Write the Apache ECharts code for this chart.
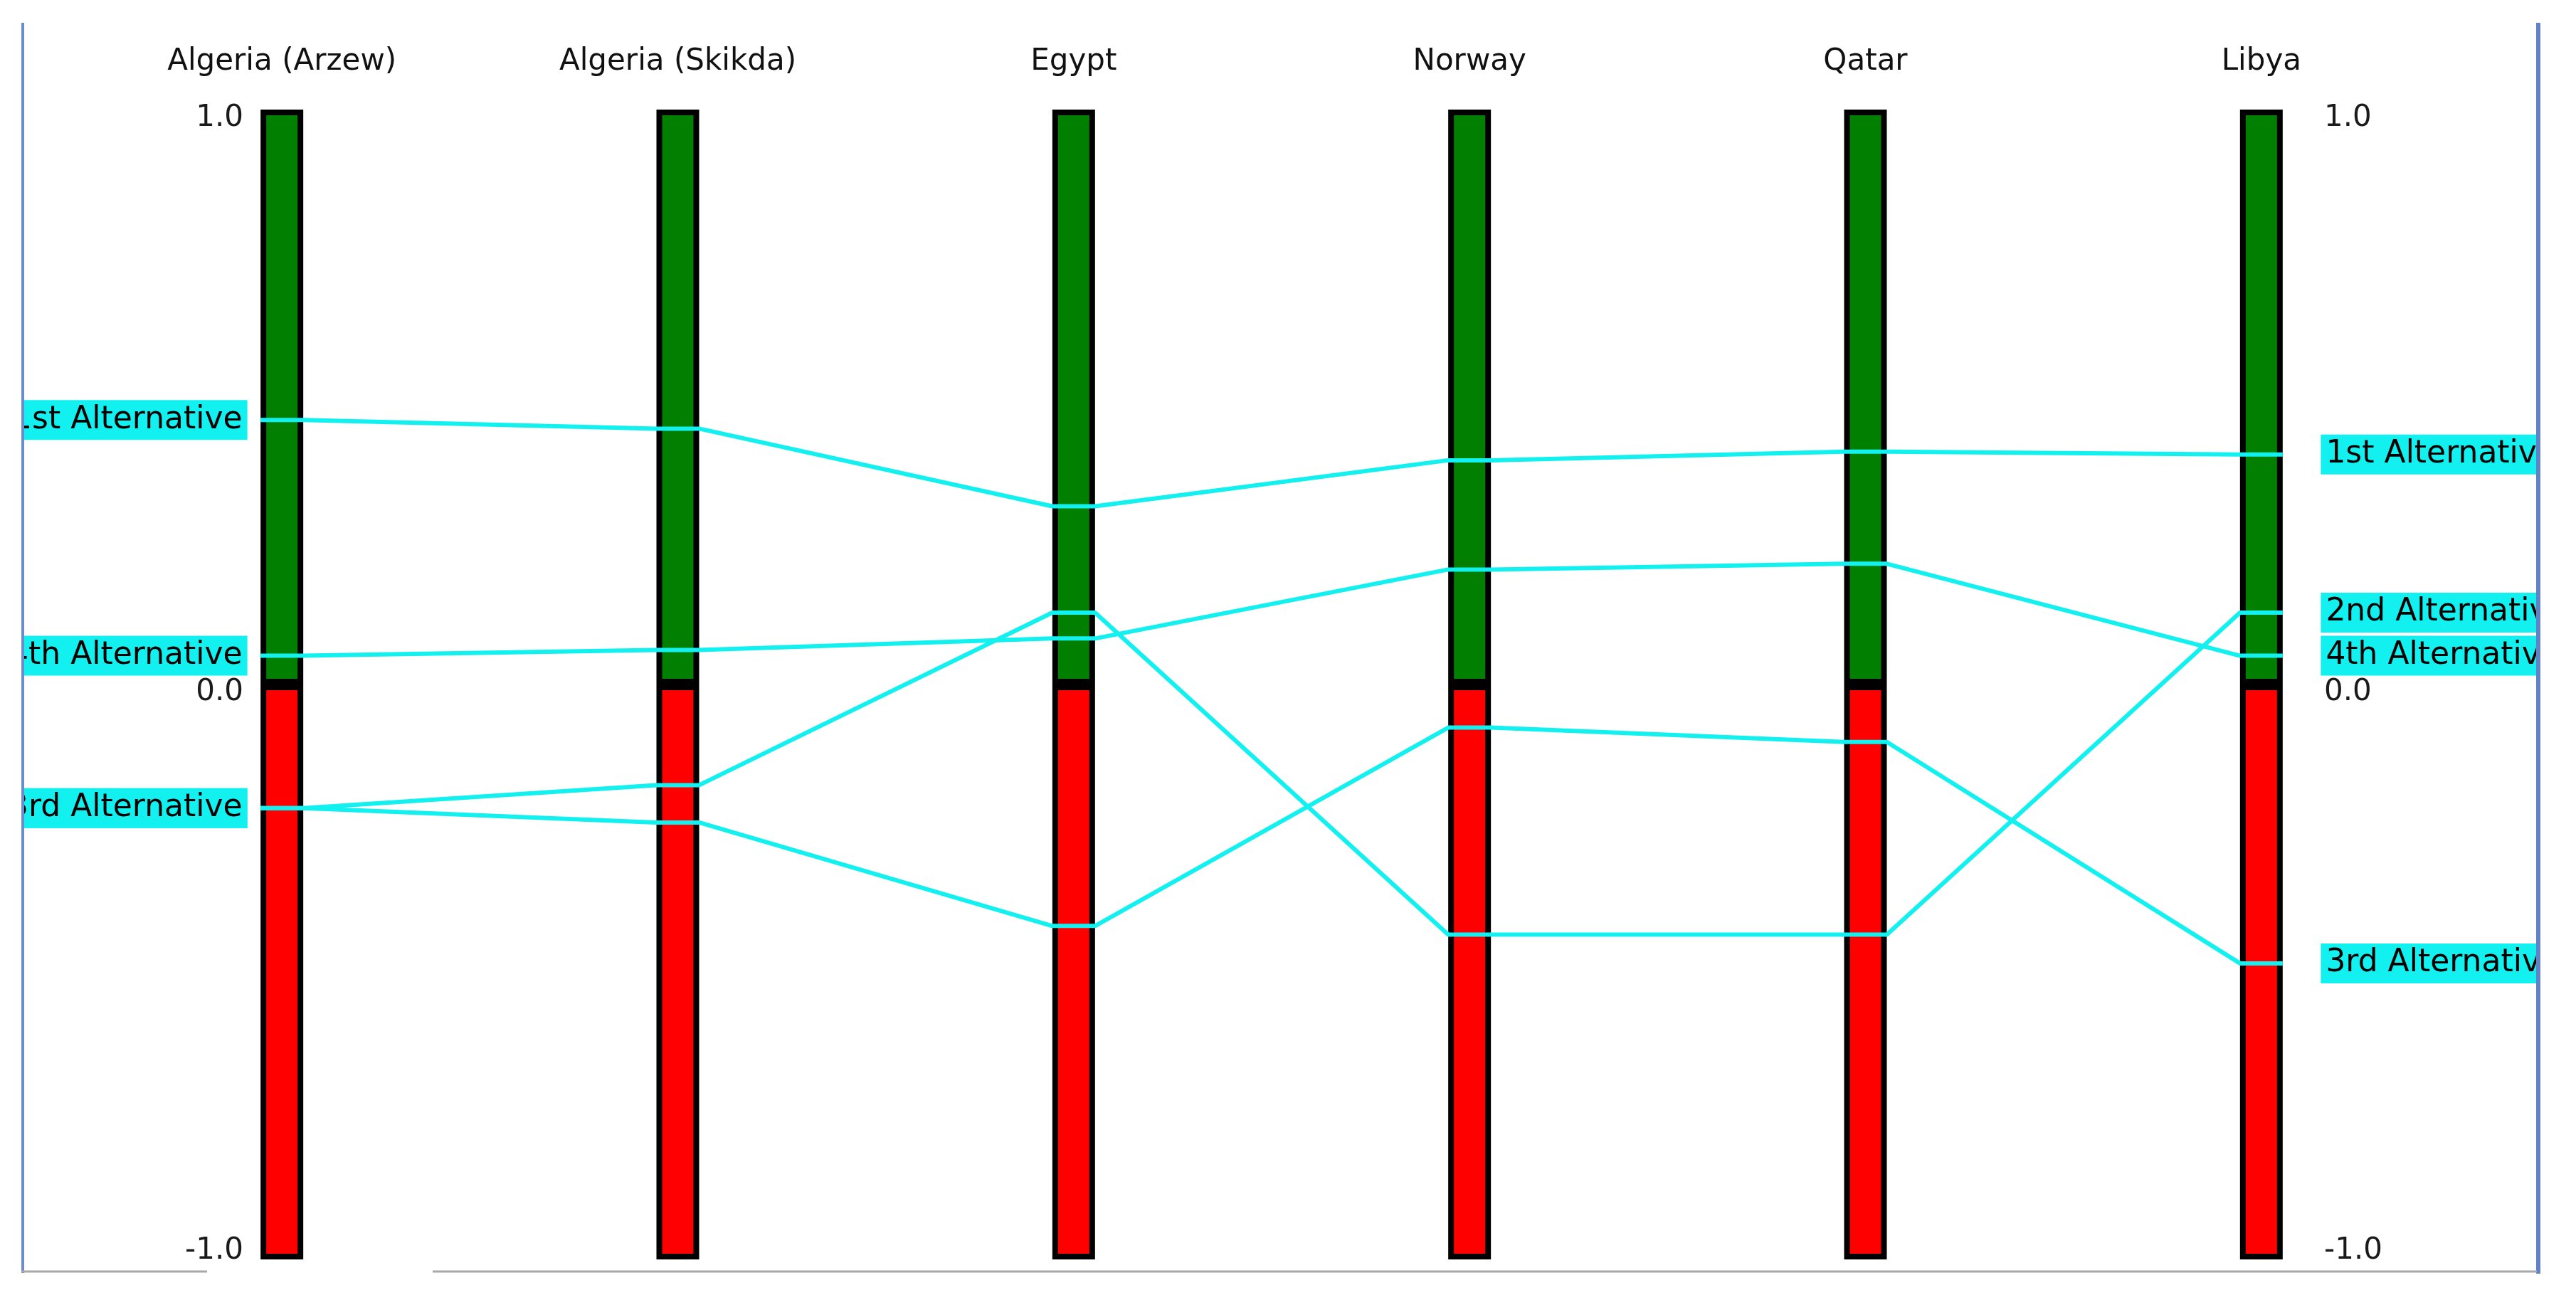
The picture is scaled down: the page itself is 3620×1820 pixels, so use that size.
<!DOCTYPE html>
<html>
<head>
<meta charset="utf-8">
<script src="https://cdn.jsdelivr.net/npm/echarts@6/dist/echarts.min.js"></script>
<style>
html,body{margin:0;padding:0;background:#fff;}
#chart{width:3620px;height:1820px;}
</style>
</head>
<body>
<div id="chart"></div>
<script>
// ---- data ----
const categories = ['Algeria (Arzew)', 'Algeria (Skikda)', 'Egypt', 'Norway', 'Qatar', 'Libya'];
const alternativeNames = ['1st Alternative', '2nd Alternative', '3rd Alternative', '4th Alternative'];
const alt1st = [0.46, 0.445, 0.31, 0.39, 0.405, 0.40];
const alt2nd = [-0.215, -0.175, 0.125, -0.435, -0.435, 0.125];
const alt3rd = [-0.215, -0.24, -0.42, -0.075, -0.10, -0.485];
const alt4th = [0.05, 0.06, 0.08, 0.20, 0.21, 0.05];
const positiveRange = [1, 1, 1, 1, 1, 1];
const negativeRange = [-1, -1, -1, -1, -1, -1];
const axisMin = -1, axisMax = 1, axisInterval = 1;

// ---- styling ----
const FONT = 'DejaVu Sans';
const CYAN = '#12F0F0';
const HALF = 0.054; // half bar width in category units (flat segment across each bar)

const chart = echarts.init(document.getElementById('chart'), null, {renderer: 'canvas'});

function lineData(values) {
  const pts = [];
  values.forEach((v, i) => {
    pts.push([i + 0.5 - HALF, v]);
    pts.push([i + 0.5 + HALF, v]);
  });
  return pts.map((p, k) => {
    if (k === 0) return {value: p, label: {show: true, position: 'left', distance: 18}};
    if (k === pts.length - 1) return {value: p, label: {show: true, position: 'right', distance: 53}};
    return {value: p};
  });
}

const altValues = [alt1st, alt2nd, alt3rd, alt4th];

const tickLabel = (v) => {
  const key = v >= axisMax ? 'hi' : (v <= axisMin ? 'lo' : 'mid');
  return '{' + key + '|' + v.toFixed(1) + '}';
};
const tickRich = {
  hi: {padding: [24, 0, 0, 0], fontSize: 42, fontFamily: FONT, color: '#1a1a1a'},
  lo: {padding: [0, 0, 24, 0], fontSize: 42, fontFamily: FONT, color: '#1a1a1a'},
  mid: {padding: [22, 0, 0, 0], fontSize: 42, fontFamily: FONT, color: '#1a1a1a'}
};

const lineSeries = alternativeNames.map((name, idx) => ({
  name: name,
  type: 'line',
  xAxisIndex: 1,
  yAxisIndex: 0,
  data: lineData(altValues[idx]),
  symbol: 'circle',
  symbolSize: 1,
  showSymbol: true,
  lineStyle: {color: CYAN, width: 6},
  itemStyle: {color: CYAN},
  z: 5,
  label: {
    show: false,
    formatter: name,
    color: '#000',
    fontFamily: FONT,
    fontSize: 44,
    lineHeight: 50,
    backgroundColor: CYAN,
    padding: [3, 7, 3, 7]
  },
  emphasis: {disabled: true},
  silent: true
}));

chart.setOption({
  animation: false,
  backgroundColor: '#fff',
  grid: {left: 118, right: 164, top: 154, bottom: 50, containLabel: false},
  xAxis: [
    {
      type: 'category',
      data: categories,
      position: 'top',
      boundaryGap: true,
      axisLine: {show: false},
      axisTick: {show: false},
      splitLine: {show: false},
      axisLabel: {margin: 46, fontFamily: FONT, fontSize: 42, lineHeight: 42, color: '#111', interval: 0}
    },
    {
      type: 'value',
      min: 0,
      max: categories.length,
      show: false
    }
  ],
  yAxis: [
    {
      type: 'value',
      min: axisMin, max: axisMax, interval: axisInterval,
      position: 'left',
      offset: -248,
      axisLine: {show: false},
      axisTick: {show: false},
      splitLine: {show: false},
      axisLabel: {margin: 24, formatter: tickLabel, rich: tickRich, fontFamily: FONT, fontSize: 42, color: '#1a1a1a'}
    },
    {
      type: 'value',
      min: axisMin, max: axisMax, interval: axisInterval,
      position: 'right',
      offset: -248,
      axisLine: {show: false},
      axisTick: {show: false},
      splitLine: {show: false},
      axisLabel: {margin: 58, align: 'left', formatter: tickLabel, rich: tickRich, fontFamily: FONT, fontSize: 42, color: '#1a1a1a'}
    }
  ],
  series: [
    {
      name: 'positive',
      type: 'bar',
      xAxisIndex: 0, yAxisIndex: 0,
      data: positiveRange,
      barWidth: 60,
      barGap: '-100%',
      itemStyle: {color: '#007F00', borderColor: '#000', borderWidth: 8},
      z: 2, silent: true
    },
    {
      name: 'negative',
      type: 'bar',
      xAxisIndex: 0, yAxisIndex: 0,
      data: negativeRange,
      barWidth: 60,
      barGap: '-100%',
      itemStyle: {color: '#FF0000', borderColor: '#000', borderWidth: 8},
      z: 2, silent: true
    }
  ].concat(lineSeries),
  graphic: [
    {type: 'rect', shape: {x: 0, y: 0, width: 30, height: 1820}, style: {fill: '#fff'}, z: 100},
    {type: 'rect', shape: {x: 3570, y: 0, width: 50, height: 1820}, style: {fill: '#fff'}, z: 100},
    {type: 'line', shape: {x1: 32, y1: 32, x2: 32, y2: 1789}, style: {stroke: '#6E8CC8', lineWidth: 4}, z: 101},
    {type: 'line', shape: {x1: 3567, y1: 32, x2: 3567, y2: 1790}, style: {stroke: '#6282C6', lineWidth: 6}, z: 101},
    {type: 'line', shape: {x1: 30, y1: 1787, x2: 291, y2: 1787}, style: {stroke: '#A8A8A8', lineWidth: 3}, z: 101},
    {type: 'line', shape: {x1: 608, y1: 1787, x2: 3565, y2: 1787}, style: {stroke: '#A8A8A8', lineWidth: 3}, z: 101}
  ]
});
</script>
</body>
</html>
